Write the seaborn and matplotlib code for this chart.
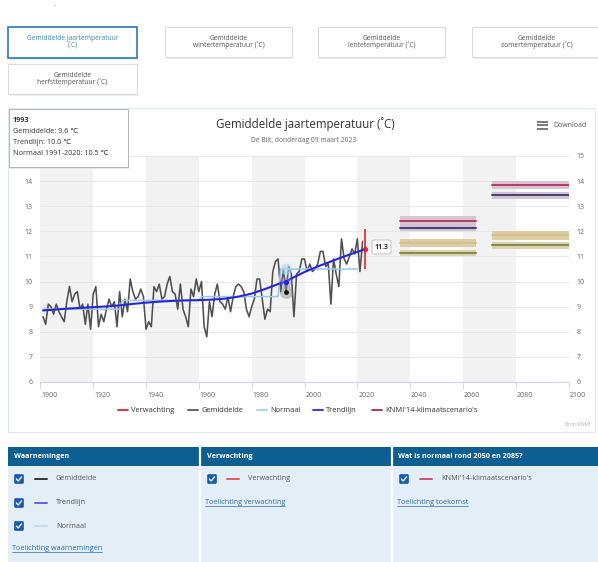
import matplotlib

matplotlib.use("Agg")

import matplotlib.pyplot as plt
import matplotlib.transforms as mtransforms
from matplotlib.patches import Rectangle, FancyBboxPatch
import numpy as np
import pandas as pd
import seaborn as sns

sns.set_theme(style="white")
plt.rcParams["font.family"] = ["Open Sans", "DejaVu Sans"]

# --- data --------------------------------------------------------------------
years = np.arange(1901, 2023)
gemiddelde = [
    8.6, 8.3, 9.1, 9.0, 8.7, 9.1, 8.8, 8.6, 8.4, 9.2,
    9.8, 9.2, 9.5, 9.6, 8.9, 9.1, 8.3, 9.1, 8.1, 9.5,
    9.8, 8.2, 8.7, 8.4, 8.9, 9.3, 9.0, 9.2, 8.2, 9.6,
    8.6, 9.3, 8.8, 10.1, 9.6, 9.3, 9.4, 9.7, 9.4, 8.1,
    8.4, 8.2, 9.8, 9.6, 9.9, 9.3, 9.4, 9.9, 10.2, 9.6,
    9.5, 8.9, 9.9, 8.9, 8.6, 8.2, 9.7, 9.4, 10.1, 9.6,
    10.0, 8.2, 7.8, 9.2, 8.6, 9.5, 9.9, 9.2, 9.1, 8.9,
    9.4, 8.8, 9.4, 9.8, 9.9, 9.8, 9.6, 8.9, 8.6, 9.0,
    9.3, 10.1, 10.1, 9.3, 8.5, 8.9, 8.8, 10.4, 10.8, 10.9,
    9.6, 10.5, 9.6, 10.6, 10.3, 8.6, 10.3, 10.4, 10.9, 10.9,
    10.4, 10.7, 10.4, 10.5, 10.7, 11.2, 11.2, 10.6, 10.7, 9.1,
    10.9, 10.3, 9.8, 11.7, 10.9, 10.7, 11.0, 11.3, 11.1, 11.7,
    10.4, 11.6,
]
trend_years = [1901, 1905, 1910, 1915, 1920, 1925, 1930, 1935, 1940, 1945,
               1950, 1955, 1960, 1965, 1970, 1975, 1980, 1985, 1990, 1993,
               1995, 2000, 2005, 2010, 2015, 2020, 2023]
trend_values = [8.85, 8.88, 8.92, 8.95, 8.98, 9.01, 9.05, 9.11, 9.16, 9.20,
                9.23, 9.25, 9.26, 9.28, 9.32, 9.40, 9.52, 9.70, 9.90, 10.0,
                10.12, 10.38, 10.60, 10.80, 11.0, 11.18, 11.3]
normal_years = [1901, 1930, 1931, 1960, 1961, 1990, 1991, 2020]
normal_values = [8.9, 8.9, 9.25, 9.25, 9.4, 9.4, 10.5, 10.5]

forecast_year = 2023
forecast_value = 11.3
forecast_low = 10.5
forecast_high = 12.1

hover_year = 1993
hover_mean = 9.6
hover_trend = 10.0
hover_normal = 10.5

scenario_names = ["WH", "WL", "GH", "GL"]
period_2050 = [2036, 2065]
period_2085 = [2071, 2100]
scen_2050_mid = [12.43, 12.12, 11.52, 11.15]
scen_2050_low = [12.28, 12.00, 11.36, 11.02]
scen_2050_high = [12.60, 12.28, 11.70, 11.27]
scen_2085_mid = [13.85, 13.45, 11.84, 11.45]
scen_2085_low = [13.70, 13.30, 11.67, 11.31]
scen_2085_high = [14.00, 13.58, 12.01, 11.57]
scen_line_colors = ["#b83a5e", "#4a3d6e", "#d3bf8c", "#7f8f4e"]
scen_band_colors = ["#d6c3d3", "#cfc4d6", "#dccda3", "#dcd2ab"]

x_ticks = list(range(1900, 2101, 20))
y_ticks = list(range(6, 16))

# --- figure ------------------------------------------------------------------
W, H = 598, 562
fig = plt.figure(figsize=(W / 100, H / 100), dpi=100)
fig.patch.set_facecolor("white")

ax = fig.add_axes([40.4 / W, 1 - 382 / H, 528.2 / W, 226 / H])
ax.set_xlim(1900, 2100)
ax.set_ylim(6, 15)

for start in x_ticks[:-1:2]:
    ax.axvspan(start, start + 20, color="#f2f2f2", lw=0, zorder=0)

ax.set_axisbelow(True)
ax.yaxis.grid(True, color="#e4e4e4", lw=0.6)
ax.set_xticks(x_ticks)
ax.set_yticks(y_ticks)
ax.tick_params(axis="x", length=5, width=0.6, color="#ccd6eb", labelsize=5,
               labelcolor="#666666", pad=2, bottom=True)
ax.tick_params(axis="y", length=0, labelsize=5, labelcolor="#666666",
               labelleft=True, labelright=True, pad=5.5)
for side in ["top", "left", "right"]:
    ax.spines[side].set_visible(False)
ax.spines["bottom"].set_color("#ccd6eb")
ax.spines["bottom"].set_linewidth(0.8)

# scenarios
for period, mids, lows, highs in [
    (period_2050, scen_2050_mid, scen_2050_low, scen_2050_high),
    (period_2085, scen_2085_mid, scen_2085_low, scen_2085_high),
]:
    for mid, lo, hi, lc, bc in zip(mids, lows, highs, scen_line_colors, scen_band_colors):
        ax.fill_between(period, [lo, lo], [hi, hi], color=bc, lw=0, zorder=2)
        ax.plot(period, [mid, mid], color=lc, lw=1.4, zorder=2.5)

df = pd.DataFrame({"jaar": years, "gemiddelde": gemiddelde})
sns.lineplot(data=df, x="jaar", y="gemiddelde", ax=ax, color="#505050", lw=1.15, zorder=3)
ax.plot(normal_years, normal_values, color="#93cbe9", lw=1.1, zorder=3.5)
sns.lineplot(x=trend_years, y=trend_values, ax=ax, color="#2626d9", lw=1.5, zorder=4)
ax.set_xlabel("")
ax.set_ylabel("")

# hover highlight at 1993
ax.scatter([hover_year], [hover_normal], s=70, color="#a8d8f0", alpha=0.6, lw=0, zorder=5)
ax.scatter([hover_year], [hover_mean], s=90, color="#888888", alpha=0.45, lw=0, zorder=5)
ax.scatter([hover_year], [hover_mean], s=12, color="#111111", lw=0, zorder=6)
ax.scatter([hover_year], [hover_trend], s=60, color="#8f8ff0", alpha=0.4, lw=0, zorder=5)
ax.scatter([hover_year], [hover_trend], s=14, color="#2626d9", lw=0, zorder=6)

# forecast
ax.vlines(forecast_year, forecast_low, forecast_high, color="#e4202e", lw=1.2, zorder=6)
ax.scatter([forecast_year], [forecast_value], s=14, color="#e4202e", lw=0, zorder=7)

offset = mtransforms.ScaledTranslation(0.09, 0, fig.dpi_scale_trans)
for lab in ax.get_xticklabels():
    lab.set_transform(lab.get_transform() + offset)
# the left "15" sits under the tooltip in the original
for tick in ax.yaxis.get_major_ticks():
    if tick.get_loc() == 15:
        tick.label1.set_visible(False)

# --- page furniture in pixel coordinates ---------------------------------------
ov = fig.add_axes([0, 0, 1, 1])
ov.set_xlim(0, W)
ov.set_ylim(H, 0)
ov.axis("off")

ov.text(55, 6, "-", fontsize=5, color="#999999", ha="center", va="center")

buttons = [
    (8, 27, 129, 31, "Gemiddelde jaartemperatuur\n(˚C)", True),
    (165, 27, 127, 30, "Gemiddelde\nwintertemperatuur (˚C)", False),
    (318, 27, 127, 30, "Gemiddelde\nlentetemperatuur (˚C)", False),
    (472, 27, 130, 30, "Gemiddelde\nzomertemperatuur (˚C)", False),
    (8, 64, 129, 30, "Gemiddelde\nherfsttemperatuur (˚C)", False),
]
for bx, by, bw, bh, label, active in buttons:
    ec = "#2a7ab0" if active else "#dadada"
    ov.add_patch(Rectangle((bx + 1, by + 1.5), bw, bh, color="#eeeeee", lw=0))
    ov.add_patch(Rectangle((bx, by), bw, bh, facecolor="white", edgecolor=ec,
                           lw=1.2 if active else 0.7))
    ov.text(bx + bw / 2, by + bh / 2, label, fontsize=4.8, ha="center", va="center",
            color="#3a86bd" if active else "#555555", linespacing=1.0)

# chart container
ov.add_patch(Rectangle((8, 108), 587, 324, facecolor="none", edgecolor="#dfe7ef", lw=0.8))
ov.text(305, 124, "Gemiddelde jaartemperatuur (˚C)", fontsize=8.3, color="#333333",
        ha="center", va="center")
ov.text(304, 141, "De Bilt, donderdag 09 maart 2023", fontsize=4.8, color="#666666",
        ha="center", va="center")
for yy in (121.5, 125, 128.5):
    ov.plot([537, 548], [yy, yy], color="#555555", lw=1.1, solid_capstyle="butt")
ov.text(553, 125.5, "Download", fontsize=5, color="#555555", ha="left", va="center")
ov.text(590, 424, "Bron: KNMI", fontsize=3.3, color="#aaaaaa", ha="right", va="center")

# forecast label
ov.add_patch(FancyBboxPatch((372, 240), 19, 14, boxstyle="round,pad=0,rounding_size=2",
                            facecolor="white", edgecolor="#bbbbbb", lw=0.6))
ov.text(381.5, 247.5, "11.3", fontsize=5, fontweight="bold", color="#333333",
        ha="center", va="center")

# tooltip
ov.add_patch(Rectangle((10, 110.5), 119, 58, color="#e6e6e6", lw=0))
ov.add_patch(Rectangle((9, 109), 119, 58, facecolor="white", edgecolor="#aaaaaa", lw=0.6))
tip_lines = ["1993", "Gemiddelde: 9.6 ℃", "Trendlijn: 10.0 ℃", "Normaal 1991-2020: 10.5 ℃"]
for i, line in enumerate(tip_lines):
    ov.text(13, 120 + i * 11.2, line, fontsize=5.2, color="#333333", ha="left", va="center",
            fontweight="bold" if i == 0 else "normal")

# legend
legend_items = [
    ("Verwachting", "#e4202e", 118),
    ("Gemiddelde", "#555555", 188),
    ("Normaal", "#9fd3ee", 257),
    ("Trendlijn", "#2b2bd6", 313),
    ("KNMI'14-klimaatscenario's", "#b0284e", 372),
]
for label, color, lx in legend_items:
    ov.plot([lx, lx + 10], [410, 410], color=color, lw=1.3)
    ov.text(lx + 13, 410, label, fontsize=5.4, color="#333333", ha="left", va="center")

# bottom panels
ov.add_patch(Rectangle((8, 447), 590, 19, color="#0d5f92", lw=0))
ov.add_patch(Rectangle((8, 466), 590, 96, color="#e4eef7", lw=0))
for sx in (200, 392):
    ov.plot([sx, sx], [447, 562], color="white", lw=1.6)
headers = [(14, "Waarnemingen"), (207, "Verwachting"), (398, "Wat is normaal rond 2050 en 2085?")]
for hx, label in headers:
    ov.text(hx, 456.5, label, fontsize=5.2, fontweight="bold", color="white",
            ha="left", va="center")


def checkbox(cx, cy):
    ov.add_patch(FancyBboxPatch((cx - 4.5, cy - 4.5), 9, 9,
                                boxstyle="round,pad=0,rounding_size=1.2",
                                facecolor="#1b5cab", edgecolor="#1b5cab", lw=0.5))
    ov.plot([cx - 2.6, cx - 0.8, cx + 2.6], [cy, cy + 2, cy - 2.2], color="white", lw=0.9)


panel_items = [
    (19, 479, 35, "#333333", "Gemiddelde"),
    (19, 503, 35, "#6a5cf0", "Trendlijn"),
    (19, 526, 35, "#c7dbe8", "Normaal"),
    (212, 479, 227, "#e55a5a", "Verwachting"),
    (404, 479, 420, "#d0506e", "KNMI'14-klimaatscenario's"),
]
for cx, cy, lx, color, label in panel_items:
    checkbox(cx, cy)
    ov.plot([lx, lx + 12], [cy, cy], color=color, lw=1.4)
    ov.text(lx + 21, cy, label, fontsize=5.2, color="#555555", ha="left", va="center")

links = [(12, 548, "Toelichting waarnemingen"), (205, 502, "Toelichting verwachting"),
         (397, 502, "Toelichting toekomst")]
renderer = fig.canvas.get_renderer()
for tx, ty, label in links:
    t = ov.text(tx, ty, label, fontsize=5.2, color="#2a6fb0", ha="left", va="center")
    bb = t.get_window_extent(renderer)
    (x0, _), (x1, _) = ov.transData.inverted().transform([[bb.x0, bb.y0], [bb.x1, bb.y0]])
    ov.plot([x0, x1], [ty + 3.8, ty + 3.8], color="#2a6fb0", lw=0.5)

fig.savefig("out.png", dpi=100)
